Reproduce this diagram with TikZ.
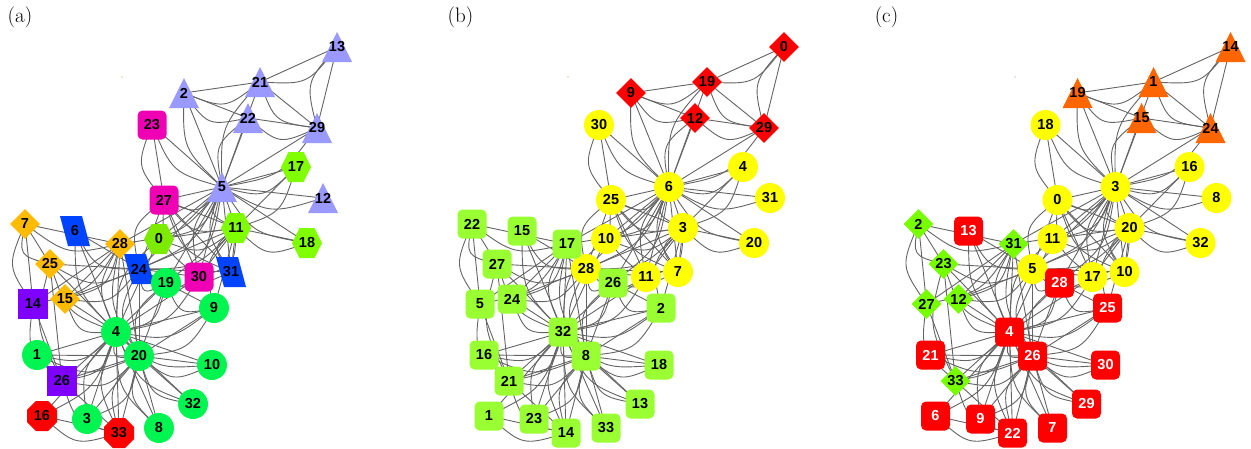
\documentclass[tikz,border=0pt]{standalone}
\usepackage{fontspec}
\newfontfamily\lblfont{Liberation Sans}
\usetikzlibrary{shapes.geometric,calc}

\definecolor{lav}{RGB}{153,153,255}
\definecolor{mag}{RGB}{240,0,180}
\definecolor{hexg}{RGB}{128,255,0}
\definecolor{hexgb}{RGB}{125,235,0}
\definecolor{ora}{RGB}{255,187,0}
\definecolor{blu}{RGB}{0,68,255}
\definecolor{pur}{RGB}{127,0,255}
\definecolor{cgr}{RGB}{0,245,80}
\definecolor{redA}{RGB}{255,0,0}
\definecolor{yel}{RGB}{255,255,0}
\definecolor{lgr}{RGB}{153,255,51}
\definecolor{org}{RGB}{255,102,0}
\definecolor{dgr}{RGB}{119,255,0}
\definecolor{edgec}{RGB}{100,100,100}
\definecolor{dotc}{RGB}{215,210,170}

\tikzset{
  edge/.style={draw=edgec, line width=0.9pt},
  lbl/.style={font=\lblfont\bfseries\fontsize{14.5}{14.5}\selectfont, inner sep=0pt},
  nd/.style={lbl, minimum size=30pt},
  panellabel/.style={font=\fontsize{21}{21}\selectfont, inner sep=0pt},
}

% edge: one straight line and one curved line
\newcommand\kedge[2]{%
  \draw[edge] (#1) -- (#2);
  \pgfpointdiff{\pgfpointanchor{#1}{center}}{\pgfpointanchor{#2}{center}}%
  \pgfgetlastxy{\kdx}{\kdy}%
  \pgfmathparse{((\kdx)-0.5*(\kdy))>0 ? -90 : 90}%
  \let\kang\pgfmathresult
  \draw[edge] (#1) .. controls ($(#1)!0.5!(#2)!22pt!\kang:(#2)$) .. (#2);
}

% node shapes: #1 coordinate, #2 fill, #3 label, #4 text colour
\newcommand\kTri[4]{\fill[#2] (#1) ++(0,15) -- ++(15,-30) -- ++(-30,0) -- cycle;
  \node[lbl,text=#4] (#1n) at (#1) {#3};}
\newcommand\kHex[4]{\fill[#2] (#1) ++(-15,0) -- ++(7.5,15) -- ++(15,0) -- ++(7.5,-15) -- ++(-7.5,-15) -- ++(-15,0) -- cycle;
  \node[lbl,text=#4] (#1n) at (#1) {#3};}
\newcommand\kOct[4]{\fill[#2] (#1) ++(-15,6.2) -- ++(8.8,8.8) -- ++(12.4,0) -- ++(8.8,-8.8) -- ++(0,-12.4) -- ++(-8.8,-8.8) -- ++(-12.4,0) -- ++(-8.8,8.8) -- cycle;
  \node[lbl,text=#4] (#1n) at (#1) {#3};}
\newcommand\kPar[4]{\fill[#2] (#1) ++(-15,15) -- ++(22,0) -- ++(8,-30) -- ++(-22,0) -- cycle;
  \node[lbl,text=#4] (#1n) at (#1) {#3};}
\newcommand\kCir[4]{\node[nd,circle,fill=#2,text=#4] (#1n) at (#1) {#3};}
\newcommand\kRsq[4]{\node[nd,rectangle,rounded corners=5pt,minimum size=29pt,fill=#2,text=#4] (#1n) at (#1) {#3};}
\newcommand\kSq[4]{\node[nd,rectangle,minimum size=30pt,fill=#2,text=#4] (#1n) at (#1) {#3};}
\newcommand\kDia[4]{\node[nd,diamond,aspect=1,minimum size=30pt,fill=#2,text=#4] (#1n) at (#1) {#3};}

\def\Kpos{0/222/187, 1/236/228, 2/139/269, 3/164/200, 4/184/93, 5/317/128,
  6/260/82, 7/231/272, 8/166/283, 9/75/231, 10/248/118, 11/323/198,
  12/152/125, 13/199/277, 14/37/355, 15/87/419, 16/337/47, 17/296/167,
  18/159/428, 19/159/239, 20/212/365, 21/307/243, 22/193/404, 23/62/381,
  24/25/224, 25/33/304, 26/42/416, 27/50/264, 28/65/299, 29/119/433,
  30/214/308, 31/120/244, 32/139/356, 33/116/332}

\def\Kedges{0/1,0/2,0/3,0/4,0/5,0/6,0/7,0/8,0/10,0/11,0/12,0/13,0/17,0/19,0/21,0/31,
  1/2,1/3,1/7,1/13,1/17,1/19,1/21,1/30,
  2/3,2/7,2/8,2/9,2/13,2/27,2/28,2/32,
  3/7,3/12,3/13,4/6,4/10,5/6,5/10,5/16,6/16,
  8/30,8/32,8/33,9/33,13/33,14/32,14/33,15/32,15/33,18/32,18/33,19/33,
  20/32,20/33,22/32,22/33,23/25,23/27,23/29,23/32,23/33,
  24/25,24/27,24/31,25/31,26/29,26/33,27/33,28/31,28/33,
  29/32,29/33,30/32,30/33,31/32,31/33,32/33}

\begin{document}
\begin{tikzpicture}[x=1pt,y=1pt]
\useasboundingbox (0,0) rectangle (1251,-448);

% coordinates of the three panels
\foreach \i/\x/\y in \Kpos {
  \coordinate (a\i) at (\x,-\y);
  \coordinate (b\i) at (\x+447,-\y);
  \coordinate (c\i) at (\x+893.5,-\y);
}

% panel labels
\node[panellabel] (la) at (20,-17) {(a)};
\node[panellabel] (lb) at (460.5,-17) {(b)};
\node[panellabel] (lc) at (886.5,-17) {(c)};

% tiny dots
\foreach \s/\n in {0/a,446/b,893/c} {
  \fill[dotc] (122+\s,-77) circle (0.9) coordinate (dot\n);
}

% edges
\foreach \p in {a,b,c} {
  \foreach \u/\v in \Kedges { \kedge{\p\u}{\p\v} }
}

% panel (a)
\foreach \i/\lab/\shp/\col in {
  0/5/Tri/lav, 1/11/Hex/hexg, 2/24/Par/blu, 3/27/Rsq/mag, 4/2/Tri/lav,
  5/29/Tri/lav, 6/21/Tri/lav, 7/31/Par/blu, 8/19/Cir/cgr, 9/6/Par/blu,
  10/22/Tri/lav, 11/12/Tri/lav, 12/23/Rsq/mag, 13/30/Rsq/mag, 14/1/Cir/cgr,
  15/3/Cir/cgr, 16/13/Tri/lav, 17/17/Hex/hexg, 18/8/Cir/cgr, 19/0/Hex/hexgb,
  20/10/Cir/cgr, 21/18/Hex/hexg, 22/32/Cir/cgr, 23/26/Sq/pur, 24/7/Dia/ora,
  25/14/Sq/pur, 26/16/Oct/redA, 27/25/Dia/ora, 28/15/Dia/ora, 29/33/Oct/redA,
  30/9/Cir/cgr, 31/28/Dia/ora, 32/20/Cir/cgr, 33/4/Cir/cgr} {
  \csname k\shp\endcsname{a\i}{\col}{\lab}{black}
}

% panel (b)
\foreach \i/\lab/\shp/\col in {
  0/6/Cir/yel, 1/3/Cir/yel, 2/28/Cir/yel, 3/25/Cir/yel, 4/9/Dia/redA,
  5/29/Dia/redA, 6/19/Dia/redA, 7/7/Cir/yel, 8/26/Rsq/lgr, 9/15/Rsq/lgr,
  10/12/Dia/redA, 11/31/Cir/yel, 12/30/Cir/yel, 13/11/Cir/yel, 14/16/Rsq/lgr,
  15/23/Rsq/lgr, 16/0/Dia/redA, 17/4/Cir/yel, 18/33/Rsq/lgr, 19/10/Cir/yel,
  20/18/Rsq/lgr, 21/20/Cir/yel, 22/13/Rsq/lgr, 23/21/Rsq/lgr, 24/22/Rsq/lgr,
  25/5/Rsq/lgr, 26/1/Rsq/lgr, 27/27/Rsq/lgr, 28/24/Rsq/lgr, 29/14/Rsq/lgr,
  30/2/Rsq/lgr, 31/17/Rsq/lgr, 32/8/Rsq/lgr, 33/32/Rsq/lgr} {
  \csname k\shp\endcsname{b\i}{\col}{\lab}{black}
}

% panel (c)
\foreach \i/\lab/\shp/\col/\tc in {
  0/3/Cir/yel/black, 1/20/Cir/yel/black, 2/5/Cir/yel/black, 3/0/Cir/yel/black,
  4/19/Tri/org/black, 5/24/Tri/org/black, 6/1/Tri/org/black, 7/10/Cir/yel/black,
  8/28/Rsq/redA/white, 9/13/Rsq/redA/white, 10/15/Tri/org/black, 11/8/Cir/yel/black,
  12/18/Cir/yel/black, 13/17/Cir/yel/black, 14/21/Rsq/redA/white, 15/9/Rsq/redA/white,
  16/14/Tri/org/black, 17/16/Cir/yel/black, 18/7/Rsq/redA/white, 19/11/Cir/yel/black,
  20/30/Rsq/redA/white, 21/32/Cir/yel/black, 22/29/Rsq/redA/white, 23/33/Dia/dgr/black,
  24/2/Dia/dgr/black, 25/27/Dia/dgr/black, 26/6/Rsq/redA/white, 27/23/Dia/dgr/black,
  28/12/Dia/dgr/black, 29/22/Rsq/redA/white, 30/25/Rsq/redA/white, 31/31/Dia/dgr/black,
  32/26/Rsq/redA/white, 33/4/Rsq/redA/white} {
  \csname k\shp\endcsname{c\i}{\col}{\lab}{\tc}
}
\end{tikzpicture}
\end{document}
